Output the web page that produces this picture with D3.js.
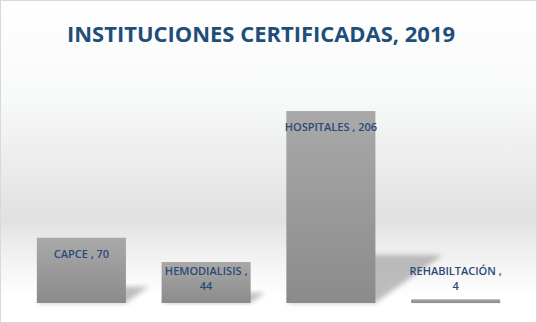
<!DOCTYPE html>
<html>
<head>
<meta charset="utf-8">
<script src="https://cdn.jsdelivr.net/npm/d3@7"></script>
<style>
  html, body { margin: 0; padding: 0; background: #fff; }
  svg { display: block; }
</style>
</head>
<body>
<script>
// data
const categories = ["CAPCE", "HEMODIALISIS", "HOSPITALES", "REHABILTACIÓN"];
const values = [70, 44, 206, 4];
// labels as excel broke them
const labelLines = [["CAPCE , 70"], ["HEMODIALISIS ,", "44"], ["HOSPITALES , 206"], ["REHABILTACIÓN ,", "4"]];

const W = 537, H = 323;
const svg = d3.select("body").append("svg")
    .attr("width", W)
    .attr("height", H);

const defs = svg.append("defs");

// background gradient
const bg = defs.append("linearGradient").attr("id", "bg")
    .attr("x1", 0).attr("y1", 0).attr("x2", 0).attr("y2", 1);
[[0, "#ffffff"], [0.3, "#f8f9f9"], [0.68, "#e1e1e1"], [0.76, "#ededed"], [0.92, "#ffffff"], [1, "#ffffff"]]
    .forEach(s => bg.append("stop").attr("offset", s[0]).attr("stop-color", s[1]));

// bar gradient
const barGrad = defs.append("linearGradient").attr("id", "barGrad")
    .attr("x1", 0).attr("y1", 0).attr("x2", 0).attr("y2", 1);
barGrad.append("stop").attr("offset", 0).attr("stop-color", "#a9a9a9");
barGrad.append("stop").attr("offset", 1).attr("stop-color", "#8b8b8b");

defs.append("filter").attr("id", "blur")
    .attr("x", "-20%").attr("y", "-20%").attr("width", "140%").attr("height", "140%")
    .append("feGaussianBlur").attr("stdDeviation", 2.5);

svg.append("rect")
    .attr("x", 0.5).attr("y", 0.5)
    .attr("width", W - 1).attr("height", H - 1)
    .attr("fill", "url(#bg)")
    .attr("stroke", "#d9d9d9");

// title
svg.append("text")
    .attr("x", 261)
    .attr("y", 42)
    .attr("text-anchor", "middle")
    .attr("font-family", "'Open Sans', sans-serif")
    .attr("font-weight", "bold")
    .attr("font-size", 21)
    .attr("textLength", 388)
    .attr("lengthAdjust", "spacingAndGlyphs")
    .attr("fill", "#1f4e79")
    .text("INSTITUCIONES CERTIFICADAS, 2019");

// scales
const x = d3.scaleBand()
    .domain(categories)
    .range([19, 518])
    .paddingInner(0.286)
    .paddingOuter(0.143);

const y = d3.scaleLinear()
    .domain([0, 220])
    .range([303, 98]);

const data = categories.map((c, i) => ({ cat: c, value: values[i], lines: labelLines[i] }));

// shadows behind bars
svg.append("g").selectAll("polygon")
    .data(data)
    .enter().append("polygon")
    .attr("points", d => {
        const x0 = x(d.cat), x1 = x0 + x.bandwidth();
        const h = y(0) - y(d.value);
        const dx = h * 0.35, dy = h * 0.25;
        return [[x0, y(0)], [x1, y(0)], [x1 + dx, y(0) - dy], [x0 + dx, y(0) - dy]].join(" ");
    })
    .attr("fill", "#8a8a8a")
    .attr("opacity", 0.55)
    .attr("filter", "url(#blur)");

// bars
svg.append("g").selectAll("rect")
    .data(data)
    .enter().append("rect")
    .attr("x", d => x(d.cat))
    .attr("y", d => y(d.value))
    .attr("width", x.bandwidth())
    .attr("height", d => y(0) - y(d.value))
    .attr("fill", "url(#barGrad)");

// data labels (inside end, pushed up when they don't fit)
const labels = svg.append("g").selectAll("text")
    .data(data)
    .enter().append("text")
    .attr("x", d => x(d.cat) + x.bandwidth() / 2)
    .attr("y", d => Math.min(y(d.value) + 20, 275))
    .attr("text-anchor", "middle")
    .attr("font-family", "'Open Sans', sans-serif")
    .attr("font-weight", 600)
    .attr("font-size", 11)
    .attr("fill", "#2a4a78");

labels.each(function (d) {
    const t = d3.select(this);
    d.lines.forEach((l, i) => {
        t.append("tspan")
            .attr("x", x(d.cat) + x.bandwidth() / 2)
            .attr("dy", i === 0 ? 0 : 15)
            .text(l);
    });
});
</script>
</body>
</html>
